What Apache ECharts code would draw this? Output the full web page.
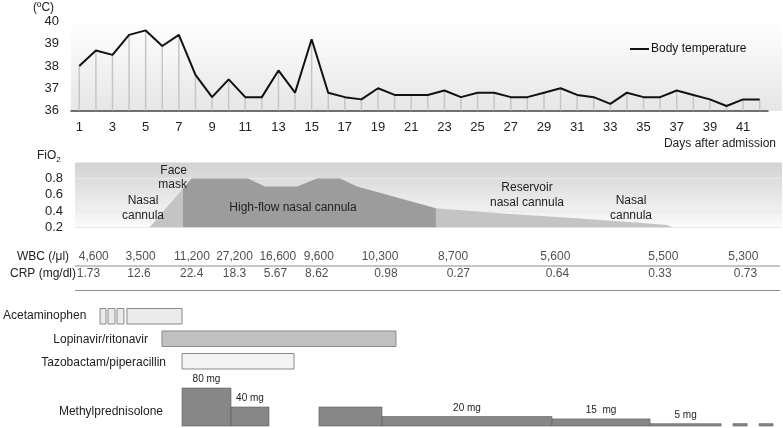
<!DOCTYPE html>
<html><head><meta charset="utf-8">
<script src="https://cdn.jsdelivr.net/npm/echarts@6/dist/echarts.min.js"></script>
<style>html,body{margin:0;padding:0;background:#fff}#c{width:783px;height:428px}</style>
</head><body><div id="c"></div>
<script>
// ---------- data ----------
const days = Array.from({length: 42}, (_, i) => String(i + 1));
const bodyTemp = [38.0,38.7,38.5,39.4,39.6,38.9,39.4,37.6,36.6,37.4,36.6,36.6,37.8,36.8,39.2,36.8,36.6,36.5,37.0,36.7,36.7,36.7,36.9,36.6,36.8,36.8,36.6,36.6,36.8,37.0,36.7,36.6,36.3,36.8,36.6,36.6,36.9,36.7,36.5,36.2,36.5,36.5];
const tempTicks = [36, 40, 1];

const faceMaskDays = [5.22, 7.25];
const faceMaskFiO2 = [0.2, 0.677];
const highFlowDays = [7.25, 7.77, 11.17, 12.19, 14.12, 15.32, 16.71, 17.73, 19.54, 22.49];
const highFlowFiO2 = [0.677, 0.8, 0.8, 0.7, 0.7, 0.8, 0.8, 0.7, 0.6, 0.435];
const reservoirDays = [22.49, 26.5, 31.17, 34.5, 36.41, 36.78];
const reservoirFiO2 = [0.435, 0.37, 0.31, 0.26, 0.23, 0.2];

const labRows = ['WBC (/μl)', 'CRP (mg/dl)'];
const wbcDays = [1.87, 4.69, 7.79, 10.35, 12.96, 15.43, 19.12, 23.52, 29.68, 36.19, 41.01];
const wbcValues = ['4,600','3,500','11,200','27,200','16,600','9,600','10,300','8,700','5,600','5,500','5,300'];
const crpDays = [1.55, 4.60, 7.77, 10.35, 12.82, 15.31, 19.48, 23.84, 29.81, 35.99, 41.14];
const crpValues = ['1.73','12.6','22.4','18.3','5.67','8.62','0.98','0.27','0.64','0.33','0.73'];

const drugs = ['Acetaminophen', 'Lopinavir/ritonavir', 'Tazobactam/piperacillin'];
const drugRow = [0, 0, 0, 0, 1, 2];
const drugStart = [2.25, 2.73, 3.27, 3.87, 5.98, 7.19];
const drugEnd = [2.61, 3.15, 3.69, 7.19, 20.08, 13.94];

const mpStart = [7.19, 10.14, 15.44, 19.24, 29.48, 35.39, 40.39, 41.96];
const mpEnd = [10.14, 12.43, 19.24, 29.48, 35.39, 39.67, 41.24, 42.8];
const mpDose = [80, 40, 40, 20, 15, 5, 5, 5];
const mpLabels = ['80 mg', '40 mg', '', '20 mg', '15  mg', '5 mg', '', ''];

// ---------- chart ----------
const FONT = 'Liberation Sans, Arial, sans-serif';
const drugFill = ['#ebebeb', '#c0c0c0', '#f3f3f3'];
const chart = echarts.init(document.getElementById('c'), null, {renderer: 'canvas'});
const dayMin = 0.5, dayMax = 43.4;

function zipXY(xs, ys) { return xs.map((x, i) => [x, ys[i]]); }
function areaSeries(xs, ys, color) {
  return {
    type: 'line', xAxisIndex: 1, yAxisIndex: 1, data: zipXY(xs, ys), symbol: 'none',
    lineStyle: {width: 0}, areaStyle: {color: color, opacity: 1, origin: 'start'}, silent: true, z: 2
  };
}
function txt(x, y, s, align) {
  return {type: 'text', x: x, y: y, z: 100,
    style: {text: s, font: '12px ' + FONT, fill: '#222', align: align || 'left', verticalAlign: 'middle'}};
}

const option = {
  animation: false,
  textStyle: {fontFamily: FONT},
  legend: {
    data: [{name: 'Body temperature', icon: 'rect'}], left: 630, top: 43, padding: 0,
    itemWidth: 19, itemHeight: 2, itemGap: 0,
    textStyle: {fontSize: 12, color: '#111', fontFamily: FONT, padding: [0, 0, 0, -3]}
  },
  grid: [
    {left: 71, top: 21.5, width: 697, height: 89},
    {left: 75, top: 162, width: 707, height: 65.5, show: true, borderWidth: 0,
      backgroundColor: {type: 'linear', x: 0, y: 0, x2: 0, y2: 1,
        colorStops: [{offset: 0, color: '#d2d2d2'}, {offset: 1, color: '#fafafa'}]}},
    {left: 71, top: 248.5, width: 712, height: 34},
    {left: 71, top: 305, width: 712, height: 67.5},
    {left: 71, top: 388, width: 712, height: 38}
  ],
  xAxis: [
    {type: 'category', gridIndex: 0, data: days, boundaryGap: true,
      axisLine: {lineStyle: {color: '#444', width: 1.5}}, axisTick: {show: false},
      axisLabel: {interval: 1, margin: 10, fontSize: 13, color: '#222', fontFamily: FONT}},
    {type: 'value', gridIndex: 1, min: 0.741, max: 43.34, show: false},
    {type: 'value', gridIndex: 2, min: dayMin, max: dayMax, show: false},
    {type: 'value', gridIndex: 3, min: dayMin, max: dayMax, show: false},
    {type: 'value', gridIndex: 4, min: dayMin, max: dayMax, show: false}
  ],
  yAxis: [
    {type: 'value', gridIndex: 0, min: tempTicks[0], max: tempTicks[1], interval: tempTicks[2],
      axisLine: {show: false}, axisTick: {show: false}, splitLine: {show: false},
      axisLabel: {margin: 12, fontSize: 13, color: '#222', fontFamily: FONT}},
    {type: 'value', gridIndex: 1, min: 0.2, max: 1.0, interval: 0.2,
      axisLine: {show: false}, axisTick: {show: false},
      splitLine: {show: true, lineStyle: {color: '#e9e9e9', width: 1}},
      axisLabel: {margin: 12, fontSize: 13, color: '#222', fontFamily: FONT,
        formatter: v => v > 0.95 ? '' : v.toFixed(1)}},
    {type: 'category', gridIndex: 2, data: labRows, inverse: true,
      axisLine: {show: false}, axisTick: {show: false},
      axisLabel: {margin: 28, align: 'center', fontSize: 12, color: '#222', fontFamily: FONT}},
    {type: 'category', gridIndex: 3, data: drugs, inverse: true, show: false},
    {type: 'value', gridIndex: 4, min: 0, max: 80, show: false}
  ],
  series: [
    {name: 'drops', type: 'custom', xAxisIndex: 0, yAxisIndex: 0, silent: true, z: 1,
      data: bodyTemp.map((v, i) => [i, v]),
      renderItem: (p, api) => {
        const t = api.coord([api.value(0), api.value(1)]);
        const b = api.coord([api.value(0), tempTicks[0]]);
        return {type: 'line', shape: {x1: t[0], y1: t[1], x2: b[0], y2: b[1]},
          style: {stroke: '#c6c6c6', lineWidth: 1.5}};
      }},
    {name: 'Body temperature', type: 'line', xAxisIndex: 0, yAxisIndex: 0, data: bodyTemp,
      symbol: 'none', lineStyle: {color: '#111', width: 2}, itemStyle: {color: '#111'}, z: 3},
    areaSeries(faceMaskDays, faceMaskFiO2, '#c4c4c4'),
    areaSeries(highFlowDays, highFlowFiO2, '#9c9c9c'),
    areaSeries(reservoirDays, reservoirFiO2, '#c4c4c4'),
    {type: 'scatter', xAxisIndex: 2, yAxisIndex: 2, symbolSize: 0, silent: true,
      data: wbcDays.map(d => [d, 0]),
      label: {show: true, position: 'inside', fontSize: 12, color: '#222', fontFamily: FONT,
        formatter: p => wbcValues[p.dataIndex]}},
    {type: 'scatter', xAxisIndex: 2, yAxisIndex: 2, symbolSize: 0, silent: true,
      data: crpDays.map(d => [d, 1]),
      label: {show: true, position: 'inside', fontSize: 12, color: '#222', fontFamily: FONT,
        formatter: p => crpValues[p.dataIndex]}},
    {type: 'custom', xAxisIndex: 3, yAxisIndex: 3, silent: true,
      data: drugStart.map((s, i) => [s, drugEnd[i], drugRow[i]]),
      renderItem: (p, api) => {
        const a = api.coord([api.value(0), api.value(2)]);
        const b = api.coord([api.value(1), api.value(2)]);
        const h = api.size([0, 1])[1] * 0.69;
        return {type: 'rect', shape: {x: a[0], y: a[1] - h / 2, width: b[0] - a[0], height: h},
          style: {fill: drugFill[api.value(2)], stroke: '#8a8a8a', lineWidth: 1}};
      }},
    {type: 'custom', xAxisIndex: 4, yAxisIndex: 4, silent: true,
      data: mpStart.map((s, i) => [s, mpEnd[i], mpDose[i]]),
      renderItem: (p, api) => {
        const a = api.coord([api.value(0), api.value(2)]);
        const b = api.coord([api.value(1), 0]);
        return {type: 'rect', shape: {x: a[0], y: a[1], width: b[0] - a[0], height: b[1] - a[1]},
          style: {fill: '#878787', stroke: '#5c5c5c', lineWidth: 0.6},
          textContent: {style: {text: mpLabels[p.dataIndex], fontSize: 10, fill: '#222', fontFamily: FONT}},
          textConfig: {position: 'top', distance: 3}};
      }}
  ],
  graphic: [
    {type: 'rect', z: -10, shape: {x: 71, y: 20, width: 711, height: 91},
      style: {fill: {type: 'linear', x: 0, y: 0, x2: 0, y2: 1,
        colorStops: [{offset: 0, color: '#ffffff'}, {offset: 1, color: '#e6e6e6'}]}}},
    txt(33, 8, '(ºC)'),
    txt(776, 144, 'Days after admission', 'right'),
    {type: 'text', x: 37, y: 156, z: 100, style: {text: '{a|FiO}{b|2}', verticalAlign: 'middle',
      rich: {a: {fontSize: 12, fontFamily: FONT, fill: '#222'}, b: {fontSize: 8, fontFamily: FONT, fill: '#222', padding: [7, 0, 0, 0]}}}},
    txt(187, 171, 'Face', 'right'),
    txt(187, 185, 'mask', 'right'),
    txt(143, 201, 'Nasal', 'center'),
    txt(143, 216, 'cannula', 'center'),
    txt(293, 208, 'High-flow nasal cannula', 'center'),
    txt(527, 188, 'Reservoir', 'center'),
    txt(527, 203, 'nasal cannula', 'center'),
    txt(631, 201, 'Nasal', 'center'),
    txt(631, 216, 'cannula', 'center'),
    {type: 'line', shape: {x1: 75, y1: 266, x2: 780, y2: 266}, style: {stroke: '#8c8c8c', lineWidth: 1.2}},
    {type: 'line', shape: {x1: 75, y1: 290.5, x2: 780, y2: 290.5}, style: {stroke: '#8c8c8c', lineWidth: 1.2}},
    txt(3, 316, 'Acetaminophen'),
    txt(148, 340, 'Lopinavir/ritonavir', 'right'),
    txt(166, 363, 'Tazobactam/piperacillin', 'right'),
    txt(163, 412, 'Methylprednisolone', 'right')
  ]
};
chart.setOption(option);
</script>
</body></html>
